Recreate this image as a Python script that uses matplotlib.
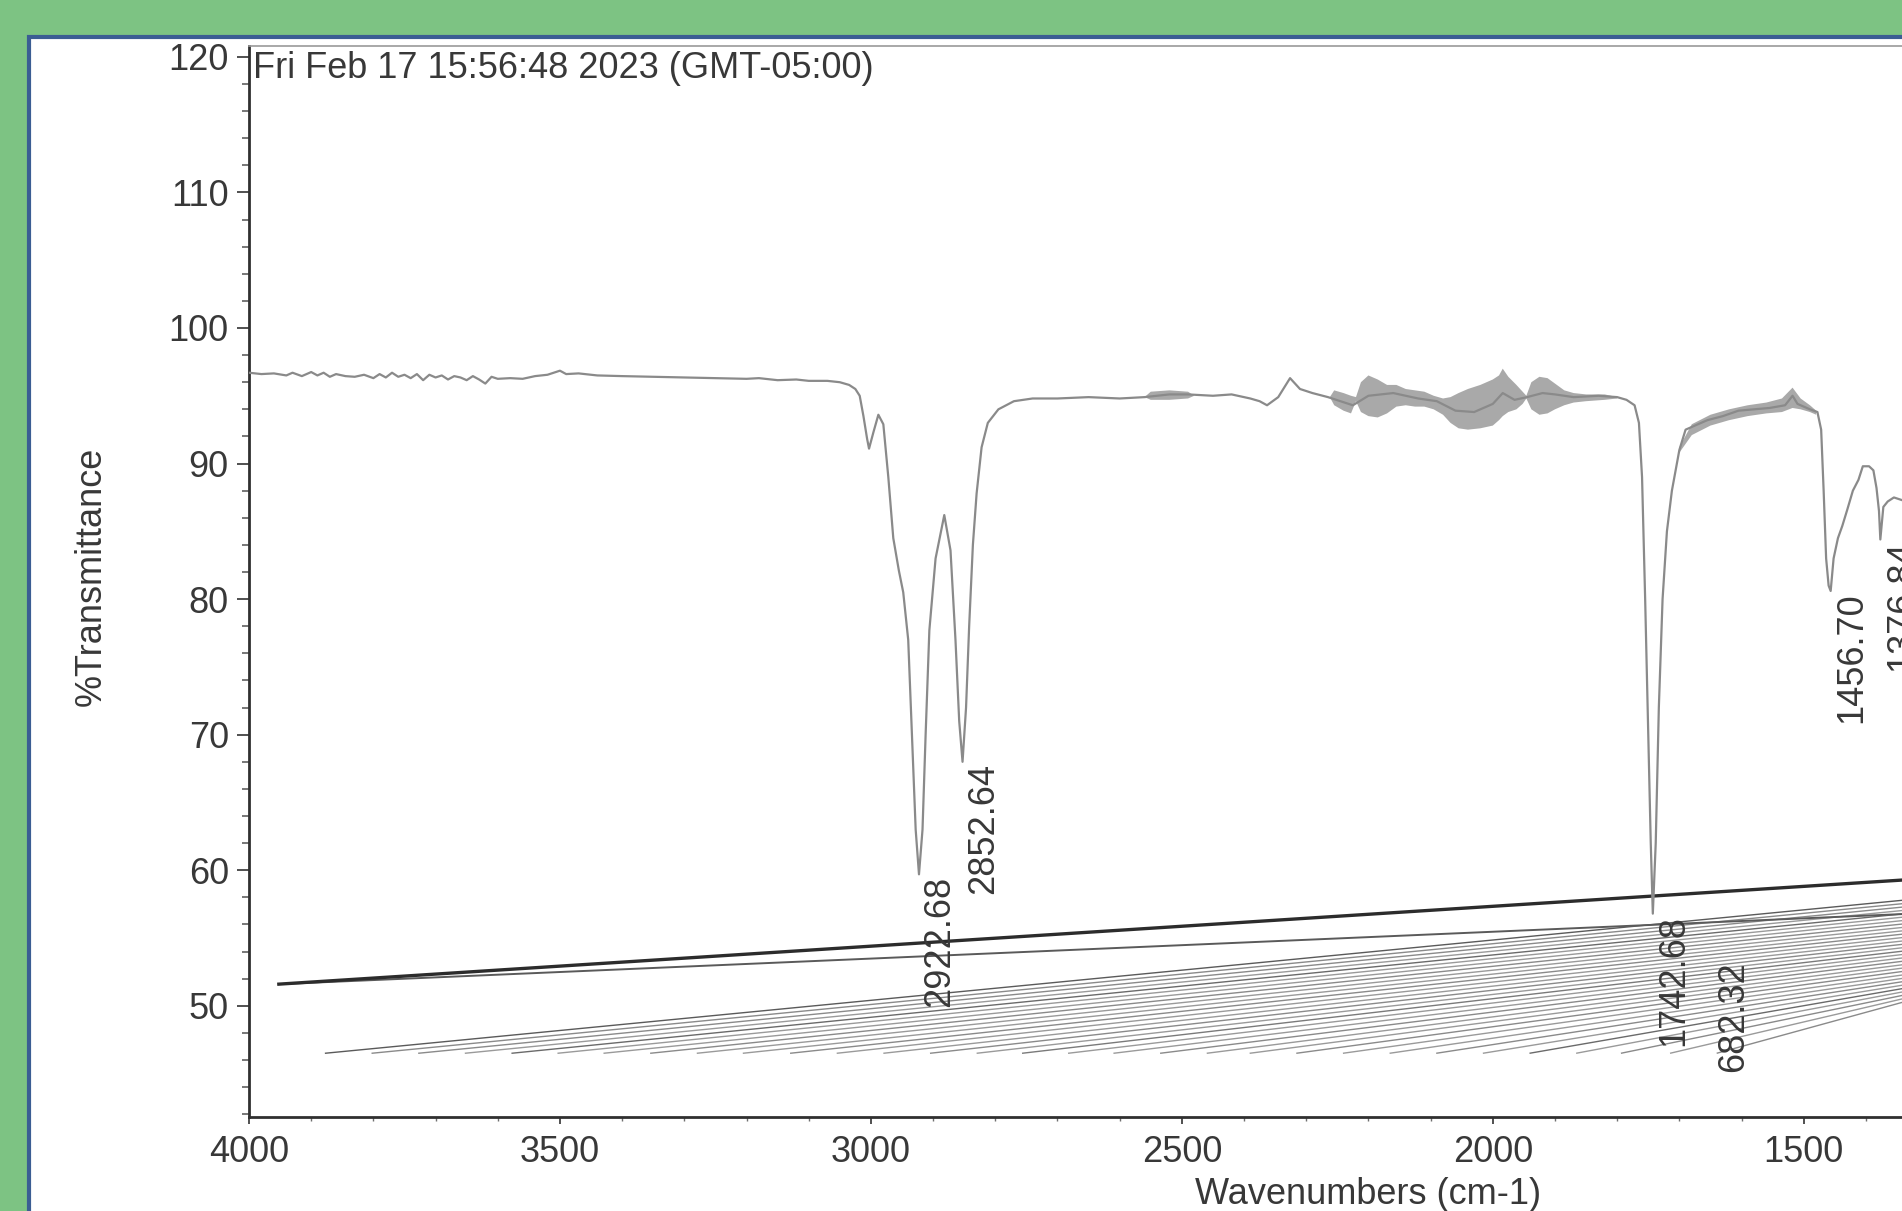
import numpy as np
import matplotlib
matplotlib.use("Agg")
import matplotlib.pyplot as plt
from matplotlib.patches import Rectangle
from matplotlib.ticker import MultipleLocator, FixedLocator

plt.rcParams['font.family'] = ['Liberation Sans', 'DejaVu Sans']

# ---------------- data ----------------
title_text = "Fri Feb 17 15:56:48 2023 (GMT-05:00)"
x_label = "Wavenumbers (cm-1)"
y_label = "%Transmittance"

x_major_ticks = [4000, 3500, 3000, 2500, 2000, 1500]
y_major_ticks = [50, 60, 70, 80, 90, 100, 110, 120]

spec_wn = [4000, 3980, 3960, 3940, 3930, 3915, 3900, 3890, 3880, 3870, 3860, 3845,
           3830, 3815, 3800, 3790, 3780, 3770, 3760, 3750, 3740, 3730, 3720, 3710,
           3700, 3690, 3680, 3670, 3660, 3650, 3640, 3630, 3620, 3610, 3600, 3580,
           3560, 3540, 3520, 3500, 3490, 3470, 3440, 3400, 3350, 3300, 3250, 3200,
           3180, 3150, 3120, 3100, 3070, 3050, 3035, 3025, 3018, 3012, 3006, 3003,
           2996, 2988, 2980, 2972, 2964, 2955, 2948, 2940, 2934, 2928, 2922.68, 2917,
           2912, 2906, 2896, 2882, 2872, 2864, 2858, 2852.64, 2847, 2842, 2836, 2830,
           2822, 2812, 2795, 2770, 2740, 2700, 2650, 2600, 2560, 2520, 2490, 2450,
           2420, 2390, 2375, 2363, 2345, 2326, 2310, 2290, 2265, 2245, 2225, 2200,
           2160, 2120, 2090, 2060, 2030, 2000, 1984, 1965, 1945, 1920, 1900, 1870,
           1830, 1800, 1785, 1772, 1765, 1760, 1755, 1750, 1746, 1742.68, 1738, 1733,
           1727, 1720, 1712, 1700, 1690, 1675, 1655, 1630, 1605, 1580, 1555, 1530,
           1518, 1510, 1490, 1478, 1472, 1468, 1464, 1460, 1456.70, 1452, 1445, 1438,
           1430, 1421, 1412, 1405, 1395, 1388, 1383, 1379, 1376.84, 1372, 1365, 1355,
           1342, 1320]
spec_T = [96.7, 96.6, 96.65, 96.5, 96.7, 96.45, 96.75, 96.5, 96.7, 96.4, 96.6, 96.45,
          96.4, 96.55, 96.3, 96.6, 96.35, 96.7, 96.4, 96.55, 96.3, 96.6, 96.15, 96.55,
          96.35, 96.5, 96.2, 96.45, 96.35, 96.15, 96.45, 96.2, 95.9, 96.4, 96.25, 96.3,
          96.25, 96.45, 96.55, 96.85, 96.6, 96.65, 96.5, 96.45, 96.4, 96.35, 96.3, 96.25,
          96.3, 96.15, 96.2, 96.1, 96.1, 96.0, 95.8, 95.5, 95.0, 93.5, 91.8, 91.1,
          92.3, 93.6, 92.9, 89.0, 84.5, 82.1, 80.5, 77.0, 70.0, 63.0, 59.7, 63.0,
          70.0, 77.7, 83.0, 86.2, 83.6, 77.0, 71.0, 68.0, 72.0, 78.0, 84.0, 87.8,
          91.2, 93.0, 94.0, 94.6, 94.8, 94.8, 94.9, 94.8, 94.9, 95.1, 95.1, 95.0,
          95.1, 94.8, 94.6, 94.3, 94.9, 96.3, 95.5, 95.2, 94.9, 94.6, 94.3, 95.0,
          95.2, 94.8, 94.6, 93.9, 93.8, 94.4, 95.2, 94.7, 94.9, 95.2, 95.1, 94.9,
          95.0, 94.9, 94.7, 94.3, 93.0, 89.0, 80.0, 70.0, 62.0, 56.8, 62.0, 72.0,
          80.0, 85.0, 88.0, 91.0, 92.5, 92.8, 93.2, 93.5, 93.9, 94.0, 94.1, 94.3,
          95.0, 94.4, 94.0, 93.8, 92.5, 88.0, 83.0, 81.0, 80.6, 83.0, 84.5, 85.4,
          86.6, 88.0, 88.8, 89.8, 89.8, 89.5, 88.2, 86.5, 84.4, 86.8, 87.2, 87.5,
          87.3, 87.0]

# noisy (thick) parts of the trace: lower / upper envelope, NaN = no band
band_wn = [2560, 2550, 2520, 2490, 2480, 2470,
           2262, 2255, 2240, 2228, 2220, 2212, 2200, 2185, 2170, 2155, 2140, 2125,
           2110, 2095, 2080, 2068, 2055, 2040, 2020, 2000, 1990, 1984, 1975, 1962,
           1952, 1946, 1938, 1925, 1912, 1900, 1885, 1870, 1850, 1820, 1800, 1795,
           1705, 1700, 1680, 1650, 1620, 1590, 1560, 1535, 1518, 1505, 1490, 1480]
band_lo = [94.9, 94.7, 94.7, 94.8, 95.0, np.nan,
           94.9, 94.3, 93.9, 93.7, 94.6, 93.8, 93.5, 93.4, 93.7, 94.2, 94.3, 94.2,
           94.2, 94.0, 93.6, 93.0, 92.6, 92.5, 92.6, 92.8, 93.2, 93.5, 93.8, 94.0,
           94.4, 94.8, 94.0, 93.6, 93.7, 94.0, 94.3, 94.5, 94.6, 94.7, 94.8, np.nan,
           np.nan, 90.8, 92.1, 92.8, 93.2, 93.5, 93.7, 93.8, 94.1, 94.0, 93.8, 93.6]
band_hi = [94.9, 95.3, 95.4, 95.3, 95.0, np.nan,
           94.9, 95.4, 95.2, 95.0, 94.9, 96.0, 96.5, 96.2, 95.8, 95.8, 95.5, 95.4,
           95.3, 95.0, 94.8, 94.9, 95.2, 95.5, 95.8, 96.2, 96.5, 97.0, 96.4, 95.8,
           95.3, 95.0, 96.0, 96.4, 96.3, 95.9, 95.4, 95.2, 95.1, 95.1, 94.9, np.nan,
           np.nan, 91.2, 92.9, 93.6, 94.0, 94.3, 94.5, 94.8, 95.6, 94.8, 94.3, 93.9]

peak_wn = [2922.68, 2852.64, 1742.68, 1456.70, 1376.84]
peak_T = [59.7, 68.0, 56.8, 80.6, 84.4]
peak_text = ["2922.68", "2852.64", "1742.68", "1456.70", "1376.84"]

extra_label_text = "682.32"
extra_label_wn = 1613
extra_label_T = 53.3

# leader lines (upper pair)
upper_start_wn = [3952, 3952]
upper_start_T = [51.6, 51.6]
upper_end_wn = [1300, 1300]
upper_end_T = [59.4, 56.85]

# leader lines (lower fan)
fan_start_wn = [3878, 3803, 3728, 3653, 3578, 3504, 3430, 3355, 3280, 3206, 3130,
                3055, 2980, 2905, 2830, 2757, 2683, 2610, 2535, 2460, 2391, 2316,
                2241, 2166, 2091, 2016, 1941, 1866, 1794, 1715, 1640]
fan_start_T = [46.5] * 31
fan_end_wn = [1300] * 31
fan_end_T = [57.97, 57.72, 57.47, 57.22, 56.97, 56.73, 56.48, 56.23, 55.98, 55.73,
             55.49, 55.24, 54.99, 54.75, 54.50, 54.25, 54.01, 53.76, 53.52, 53.27,
             53.03, 52.79, 52.54, 52.30, 52.07, 51.83, 51.60, 51.38, 51.16, 50.96,
             50.78]
fan_shade = ['#5a5a5a', '#8a8a8a', '#8a8a8a', '#9a9a9a', '#6a6a6a', '#9a9a9a',
             '#9a9a9a', '#8a8a8a', '#9a9a9a', '#9a9a9a', '#8a8a8a', '#9a9a9a',
             '#9a9a9a', '#8a8a8a', '#9a9a9a', '#7a7a7a', '#9a9a9a', '#9a9a9a',
             '#8a8a8a', '#9a9a9a', '#9a9a9a', '#8a8a8a', '#9a9a9a', '#9a9a9a',
             '#8a8a8a', '#9a9a9a', '#6a6a6a', '#9a9a9a', '#8a8a8a', '#9a9a9a',
             '#8a8a8a']

# ---------------- figure ----------------
W, H = 1902, 1211
green = '#7dc383'
blue = '#3b5d93'
ink = '#383838'
fig = plt.figure(figsize=(W / 100, H / 100), dpi=100, facecolor=green)

frame = Rectangle((29 / W, -0.01), 1.02, (H - 37) / H + 0.01, transform=fig.transFigure,
                  facecolor='white', edgecolor=blue, linewidth=3.0, zorder=-5)
fig.add_artist(frame)

ax = fig.add_axes([249 / W, (H - 1117) / H, (W - 249) / W, (1117 - 46) / H])
ax.set_facecolor('none')
ax.set_xlim(4000, 1342)
ax.set_ylim(41.8, 120.8)

# leader lines
for sw, st, ew, et, c in zip(fan_start_wn, fan_start_T, fan_end_wn, fan_end_T, fan_shade):
    ax.plot([sw, ew], [st, et], color=c, lw=1.0, solid_capstyle='butt', zorder=2)
ax.plot([upper_start_wn[1], upper_end_wn[1]], [upper_start_T[1], upper_end_T[1]],
        color='#5a5a5a', lw=1.4, zorder=3)
ax.plot([upper_start_wn[0], upper_end_wn[0]], [upper_start_T[0], upper_end_T[0]],
        color='#2c2c2c', lw=2.4, zorder=3)

# spectrum
ax.fill_between(band_wn, band_lo, band_hi, color='#a9a9a9', lw=0, zorder=3)
ax.plot(spec_wn, spec_T, color='#8a8a8a', lw=1.6, zorder=4)

# peak labels
for w, t, s in zip(peak_wn, peak_T, peak_text):
    ax.annotate(s, xy=(w, t), xytext=(2.5, -1), textcoords='offset points',
                rotation=90, ha='left', va='top', fontsize=26, color=ink,
                annotation_clip=False, zorder=5)
ax.text(extra_label_wn, extra_label_T, extra_label_text, rotation=90, ha='center',
        va='top', fontsize=26, color=ink, zorder=5)

# axes styling
ax.spines['right'].set_visible(False)
ax.spines['top'].set_color('#9a9a9a')
ax.spines['top'].set_linewidth(1.2)
for side in ['left', 'bottom']:
    ax.spines[side].set_color('#303030')
    ax.spines[side].set_linewidth(2.0)

ax.xaxis.set_major_locator(FixedLocator(x_major_ticks))
ax.xaxis.set_minor_locator(MultipleLocator(100))
ax.yaxis.set_major_locator(FixedLocator(y_major_ticks))
ax.yaxis.set_minor_locator(MultipleLocator(2))
ax.set_xticklabels([str(v) for v in x_major_ticks])
ax.set_yticklabels([str(v) for v in y_major_ticks])
ax.tick_params(axis='y', which='major', direction='out', length=8.5, width=1.4,
               color='#505050', labelsize=26, labelcolor=ink, pad=6)
ax.tick_params(axis='y', which='minor', direction='out', length=5, width=1.2,
               color='#606060')
ax.tick_params(axis='x', which='major', direction='out', length=5, width=1.4,
               color='#505050', labelsize=26, labelcolor=ink, pad=8)
ax.tick_params(axis='x', which='minor', direction='out', length=3, width=1.0,
               color='#707070')

fig.text(253 / W, 1 - 69 / H, title_text, ha='left', va='center', fontsize=26, color=ink)
fig.text(91 / W, 1 - 576 / H, y_label, rotation=90, ha='center', va='center',
         fontsize=26, color=ink)
fig.text(1368 / W, 1 - 1194 / H, x_label, ha='center', va='center', fontsize=26, color=ink)

fig.savefig('out.png', dpi=100, facecolor=fig.get_facecolor())
